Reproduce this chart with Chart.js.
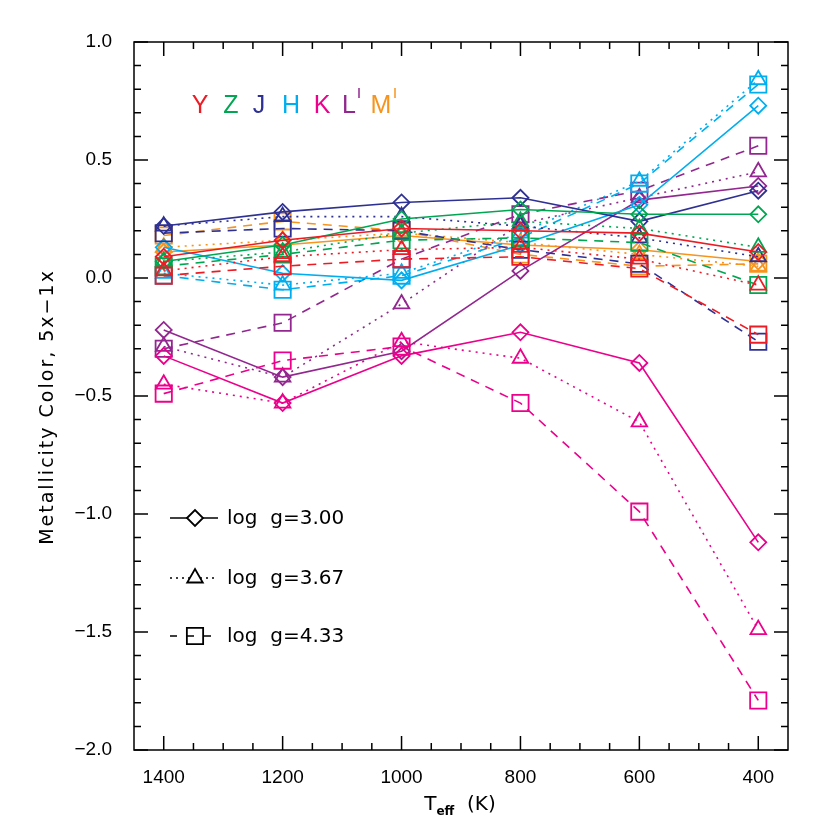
<!DOCTYPE html>
<html>
<head>
<meta charset="utf-8">
<script src="https://cdn.jsdelivr.net/npm/chart.js@4"></script>
<style>
  body { margin: 0; background: #fff; }
  #wrap { width: 830px; height: 840px; }
</style>
</head>
<body>
<div id="wrap"><canvas id="metalChart" width="830" height="840"></canvas></div>
<script>
// temperatures (K), x axis runs hot -> cold
const temps = [1400, 1200, 1000, 800, 600, 400];
const xTicks = [1400, 1200, 1000, 800, 600, 400];
const yTicks = [1.0, 0.5, 0.0, -0.5, -1.0, -1.5, -2.0];

// metallicity colour per band, one array per log g
const Y_300 = [0.09, 0.16, 0.21, 0.20, 0.19, 0.11];
const Y_367 = [0.03, 0.09, 0.12, 0.13, 0.08, -0.03];
const Y_433 = [0.01, 0.05, 0.08, 0.09, 0.04, -0.24];

const Z_300 = [0.07, 0.14, 0.25, 0.29, 0.27, 0.27];
const Z_367 = [0.07, 0.11, 0.19, 0.24, 0.21, 0.13];
const Z_433 = [0.05, 0.10, 0.16, 0.17, 0.15, -0.03];

const J_300 = [0.22, 0.28, 0.32, 0.34, 0.24, 0.37];
const J_367 = [0.22, 0.26, 0.26, 0.22, 0.17, 0.09];
const J_433 = [0.19, 0.21, 0.20, 0.12, 0.06, -0.27];

const H_300 = [0.13, 0.02, -0.01, 0.14, 0.31, 0.73];
const H_367 = [0.02, -0.03, 0.02, 0.19, 0.41, 0.84];
const H_433 = [0.01, -0.05, 0.01, 0.17, 0.40, 0.82];

const K_300 = [-0.33, -0.53, -0.33, -0.23, -0.36, -1.12];
const K_367 = [-0.45, -0.53, -0.27, -0.34, -0.61, -1.49];
const K_433 = [-0.49, -0.35, -0.29, -0.53, -0.99, -1.79];

const L_300 = [-0.22, -0.42, -0.31, 0.03, 0.33, 0.39];
const L_367 = [-0.29, -0.42, -0.11, 0.23, 0.34, 0.45];
const L_433 = [-0.30, -0.19, 0.08, 0.27, 0.37, 0.56];

const M_300 = [0.11, 0.14, 0.18, 0.14, 0.12, 0.07];
const M_367 = [0.13, 0.16, 0.19, 0.15, 0.10, 0.05];
const M_433 = [0.18, 0.24, 0.20, 0.10, 0.05, 0.06];

const bands = [
  { name: 'Y', color: '#ed1c24', sets: [Y_300, Y_367, Y_433] },
  { name: 'Z', color: '#00a651', sets: [Z_300, Z_367, Z_433] },
  { name: 'J', color: '#2e3192', sets: [J_300, J_367, J_433] },
  { name: 'H', color: '#00aeef', sets: [H_300, H_367, H_433] },
  { name: 'K', color: '#ec008c', sets: [K_300, K_367, K_433] },
  { name: 'L', color: '#92278f', sets: [L_300, L_367, L_433] },
  { name: 'M', color: '#f7941d', sets: [M_300, M_367, M_433] }
];

const gravStyles = [
  { label: 'log g=3.00', shape: 'rectRot', radius: 8, dash: [] },
  { label: 'log g=3.67', shape: 'triangle', radius: 9, dash: [2, 5] },
  { label: 'log g=4.33', shape: 'rect', radius: 11.5, dash: [9, 7] }
];

const FONT = '"Liberation Sans", Arial, sans-serif';
const WIDE = '"DejaVu Sans", sans-serif';

const datasets = [];
bands.forEach(b => {
  b.sets.forEach((vals, g) => {
    const st = gravStyles[g];
    datasets.push({
      label: b.name + ' ' + st.label,
      data: temps.map((t, i) => ({ x: t, y: vals[i] })),
      borderColor: b.color,
      backgroundColor: 'rgba(0,0,0,0)',
      borderWidth: 1.6,
      borderDash: st.dash,
      pointStyle: st.shape,
      pointRadius: st.radius,
      pointBorderWidth: 1.8,
      pointBorderColor: b.color,
      pointBackgroundColor: 'rgba(0,0,0,0)',
      tension: 0
    });
  });
});

// frame, inward ticks, titles, and text legends
const framePlugin = {
  id: 'frame',
  afterDraw(chart) {
    const { ctx, chartArea: a, scales } = chart;
    const xs = scales.x, ys = scales.y;
    ctx.save();
    ctx.strokeStyle = '#000';
    ctx.lineWidth = 1.5;
    ctx.strokeRect(a.left, a.top, a.right - a.left, a.bottom - a.top);

    // y ticks
    for (let v = -20; v <= 10; v++) {
      const y = ys.getPixelForValue(v / 10);
      const len = v % 5 === 0 ? 14 : 7;
      ctx.beginPath();
      ctx.moveTo(a.left, y); ctx.lineTo(a.left + len, y);
      ctx.moveTo(a.right, y); ctx.lineTo(a.right - len, y);
      ctx.stroke();
    }
    // x ticks
    for (let t = 400; t <= 1400; t += 50) {
      const x = xs.getPixelForValue(t);
      const len = t % 200 === 0 ? 14 : 7;
      ctx.beginPath();
      ctx.moveTo(x, a.bottom); ctx.lineTo(x, a.bottom - len);
      ctx.moveTo(x, a.top); ctx.lineTo(x, a.top + len);
      ctx.stroke();
    }

    // y title
    ctx.fillStyle = '#000';
    ctx.font = '19px ' + WIDE;
    ctx.letterSpacing = '2px';
    ctx.textAlign = 'center';
    ctx.textBaseline = 'middle';
    ctx.save();
    ctx.translate(48, 407);
    ctx.rotate(-Math.PI / 2);
    ctx.fillText('Metallicity Color, 5x\u22121x', 0, 0);
    ctx.restore();
    ctx.letterSpacing = '0px';

    // x title with subscript
    ctx.textAlign = 'left';
    ctx.textBaseline = 'alphabetic';
    const xc = 460;
    const base = 810;
    ctx.font = '20px ' + WIDE;
    const wT = ctx.measureText('T').width;
    ctx.font = 'bold 12px ' + WIDE;
    const wS = ctx.measureText('eff').width;
    ctx.font = '20px ' + WIDE;
    const wK = ctx.measureText('  (K)').width;
    let x0 = xc - (wT + wS + wK) / 2;
    ctx.fillText('T', x0, base);
    ctx.font = 'bold 12px ' + WIDE;
    ctx.fillText('eff', x0 + wT, base + 5);
    ctx.font = '20px ' + WIDE;
    ctx.fillText('  (K)', x0 + wT + wS, base);

    // band letters
    const letterX = [200, 231, 259, 291, 322, 349, 381];
    ctx.font = '25px ' + FONT;
    ctx.textAlign = 'center';
    ctx.textBaseline = 'alphabetic';
    bands.forEach((b, i) => {
      ctx.fillStyle = b.color;
      ctx.fillText(b.name, letterX[i], 113);
      if (b.name === 'L' || b.name === 'M') {
        const px = letterX[i] + (b.name === 'L' ? 10 : 14);
        ctx.strokeStyle = b.color;
        ctx.lineWidth = 1.5;
        ctx.beginPath();
        ctx.moveTo(px, 88); ctx.lineTo(px, 98);
        ctx.stroke();
      }
    });

    // log g legend
    const legY = [518, 578, 636];
    ctx.strokeStyle = '#000';
    gravStyles.forEach((st, i) => {
      const y = legY[i];
      ctx.lineWidth = 1.6;
      ctx.setLineDash(st.dash.length ? (i === 1 ? [2, 4] : [7, 10]) : []);
      ctx.beginPath();
      ctx.moveTo(170, y); ctx.lineTo(218, y);
      ctx.stroke();
      ctx.setLineDash([]);
      ctx.lineWidth = 1.8;
      ctx.fillStyle = st.shape === 'rect' ? 'rgba(0,0,0,0)' : '#fff';
      Chart.helpers.drawPoint(ctx, {
        pointStyle: st.shape, radius: st.radius, borderWidth: 1.8, rotation: 0
      }, 195, y);
      ctx.fillStyle = '#000';
      ctx.font = '20px ' + WIDE;
      ctx.textAlign = 'left';
      ctx.textBaseline = 'middle';
      ctx.fillText(st.label.replace('log g', 'log  g'), 227, y + 1);
    });
    ctx.restore();
  }
};

const fmt = v => (v < 0 ? '\u2212' : '') + Math.abs(v).toFixed(1);

new Chart(document.getElementById('metalChart'), {
  type: 'line',
  data: { datasets: datasets },
  options: {
    responsive: false,
    animation: false,
    layout: { padding: { left: 0, top: 42, right: 42, bottom: 0 } },
    plugins: { legend: { display: false }, tooltip: { enabled: false } },
    scales: {
      x: {
        type: 'linear',
        reverse: true,
        min: 350,
        max: 1450,
        grid: { display: false, drawTicks: false },
        border: { display: false },
        afterBuildTicks: s => { s.ticks = xTicks.map(v => ({ value: v })); },
        afterFit: s => { s.height = 90; },
        ticks: {
          color: '#000',
          padding: 16,
          font: { family: FONT, size: 19 },
          callback: v => String(v)
        }
      },
      y: {
        type: 'linear',
        min: -2.0,
        max: 1.0,
        grid: { display: false, drawTicks: false },
        border: { display: false },
        afterBuildTicks: s => { s.ticks = yTicks.map(v => ({ value: v })); },
        afterFit: s => { s.width = 134; },
        ticks: {
          color: '#000',
          padding: 22,
          font: { family: FONT, size: 19 },
          callback: v => fmt(v)
        }
      }
    }
  },
  plugins: [framePlugin]
});
</script>
</body>
</html>
